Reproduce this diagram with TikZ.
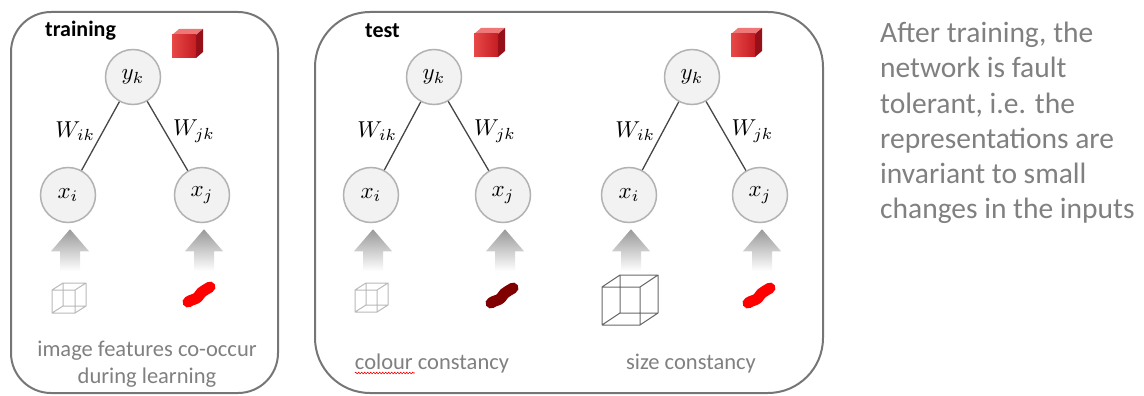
\documentclass[tikz,border=0pt]{standalone}
\usepackage{graphicx}
\usepackage{fontspec}
\setmainfont{Carlito}
\usetikzlibrary{calc,decorations.pathmorphing}

\definecolor{framegray}{RGB}{118,118,118}
\definecolor{textgray}{RGB}{128,128,128}
\definecolor{nodefill}{RGB}{242,242,242}
\definecolor{nodeline}{RGB}{178,178,178}
\definecolor{linkgray}{RGB}{70,70,70}
\definecolor{cubelight}{RGB}{232,72,72}
\definecolor{cubefront}{RGB}{196,28,34}
\definecolor{cubetop}{RGB}{238,120,120}
\definecolor{cubeside}{RGB}{150,16,26}
\definecolor{wirelight}{RGB}{185,185,185}
\definecolor{wiredark}{RGB}{105,105,105}
\definecolor{brightred}{RGB}{255,0,0}
\definecolor{darkred}{RGB}{128,0,0}

% enlarged math symbol for units and weights
\newcommand{\mathlabel}[1]{\scalebox{2.3}{$#1$}}

\tikzset{
  panel/.style={draw=framegray, line width=2pt, rounded corners=#1},
  unit/.style={circle, draw=nodeline, fill=nodefill, line width=1.5pt,
    minimum size=55pt, inner sep=0pt, font=\normalsize},
  link/.style={draw=linkgray, line width=1.3pt},
  weight/.style={font=\normalsize, inner sep=2pt},
  caption/.style={text=textgray, font=\fontsize{22.5}{27}\selectfont, align=center, inner sep=0pt},
  paneltitle/.style={font=\bfseries\fontsize{22}{22}\selectfont, inner sep=0pt},
  remark/.style={text=textgray, font=\fontsize{29.5}{35.2}\selectfont, align=left, inner sep=0pt},
  % faded upward arrow feeding an input unit
  pics/uparrow/.style={code={
    \shade[top color=black!40, bottom color=white]
      (0,0) -- (19,22) -- (10,22) -- (10,42) -- (-10,42) -- (-10,22) -- (-19,22) -- cycle;
  }},
  % solid red block standing for the object
  pics/redcube/.style={code={
    \fill[cubetop] (-15,-9) -- (9,-9) -- (16,-15) -- (-8,-15) -- cycle;
    \fill[cubeside] (9,-9) -- (16,-15) -- (16,8) -- (9,14) -- cycle;
    \shade[left color=cubelight, right color=cubefront] (-15,-9) rectangle (9,14);
  }},
  % wire-frame cube: #1 edge, #2/#3 depth offset, #4 colour
  pics/wirecube/.style n args={4}{code={
    \draw[#4, line width=1pt, line join=round]
      (0,0) rectangle (#1,-#1)
      (#2,-#3) rectangle ({#1+#2},{-#1-#3})
      (0,0) -- (#2,-#3)
      (#1,0) -- ({#1+#2},-#3)
      (0,-#1) -- (#2,{-#1-#3})
      (#1,-#1) -- ({#1+#2},{-#1-#3});
  }},
  % colour patch stroke
  pics/squiggle/.style={code={
    \draw[#1, line width=11pt, line cap=round, line join=round]
      (-11,7) .. controls (-7,4) and (-4,5) .. (-1,2)
      .. controls (2,-2) and (3,-4) .. (6,-5) -- (11,-8);
  }},
}

\begin{document}
\begin{tikzpicture}[x=1pt,y=-1pt]
\useasboundingbox (0,0) rectangle (1144,396);

% panels
\draw[panel=40pt] (11,12) rectangle (278,393);
\draw[panel=55pt] (315,12) rectangle (823,393);

\node[paneltitle, anchor=base west] (ttrain) at (45,37) {training};
\node[paneltitle, anchor=base west] (ttest) at (365,38) {test};

% units
\node[unit] (y1)  at (133,77)  {\mathlabel{y_k}};
\node[unit] (xi1) at (68,195)  {\mathlabel{x_i}};
\node[unit] (xj1) at (202,195) {\mathlabel{x_j}};

\node[unit] (y2)  at (434,77)  {\mathlabel{y_k}};
\node[unit] (xi2) at (371,195) {\mathlabel{x_i}};
\node[unit] (xj2) at (503,195) {\mathlabel{x_j}};

\node[unit] (y3)  at (692,77)  {\mathlabel{y_k}};
\node[unit] (xi3) at (629,195) {\mathlabel{x_i}};
\node[unit] (xj3) at (760,195) {\mathlabel{x_j}};

% weighted connections
\foreach \k in {1,2,3}{
  \draw[link] (y\k) -- node[weight, pos=0.5, anchor=east, yshift=5pt, xshift=-3pt] {\mathlabel{W_{ik}}} (xi\k);
  \draw[link] (y\k) -- node[weight, pos=0.5, anchor=west, yshift=5pt, xshift=3pt] {\mathlabel{W_{jk}}} (xj\k);
}

% object icons
\pic at (187,44) {redcube};
\pic at (489,43) {redcube};
\pic at (746,43) {redcube};

% input arrows
\foreach \n in {xi1,xj1,xi2,xj2,xi3,xj3}{
  \pic at ($(\n.south)+(2,6)$) {uparrow};
}

% input features
\pic at (52,313) {wirecube={23}{11}{7}{wirelight}};
\pic at (199,295) {squiggle=brightred};
\pic at (355,312) {wirecube={22}{11}{7}{wirelight}};
\pic at (502,296) {squiggle=darkred};
\pic at (602,325) {wirecube={38}{18}{12}{wiredark}};
\pic at (759,296) {squiggle=brightred};

% captions
\node[caption, anchor=north] (ctrain) at (147,341) {image features co-occur\\during learning};
\node[caption, anchor=base] (ccol) at (432,369) {colour constancy};
\node[caption, anchor=base] (csize) at (691,369) {size constancy};
\draw[brightred, line width=0.6pt, decorate,
      decoration={snake, amplitude=0.8pt, segment length=3pt}]
  ($(ccol.base west)+(0,4)$) -- ($(ccol.base west)+(60,4)$);

\node[remark, anchor=north west] (note) at (880,22)
  {After training, the\\network is fault\\tolerant, i.e. the\\representations are\\invariant to small\\changes in the inputs};
\end{tikzpicture}
\end{document}
